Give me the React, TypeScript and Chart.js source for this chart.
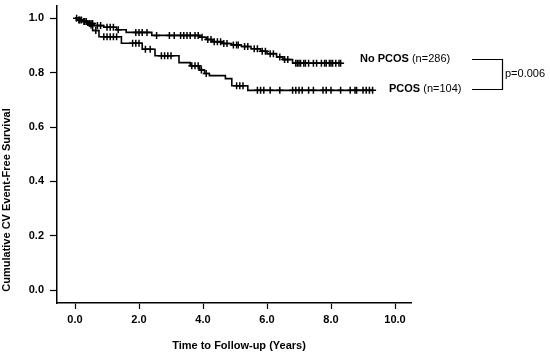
import React, { useEffect, useRef } from "react";
import { Chart, registerables } from "chart.js";
Chart.register(...registerables);

const FONT = "'Liberation Sans', Arial, Helvetica, sans-serif";

const xTicks = [0, 2, 4, 6, 8, 10];
const yTicks = [0, 0.2, 0.4, 0.6, 0.8, 1.0];

// Kaplan-Meier step points (time in years, survival)
const noPcosTimes = [0, 0.1, 0.25, 0.4, 0.6, 0.9, 1.3, 1.6, 2.4, 3.9, 4.1, 4.3, 4.6, 4.9, 5.2, 5.5, 5.8, 6.0, 6.3, 6.5, 6.8];
const noPcosSurv = [1, 0.994, 0.988, 0.981, 0.973, 0.967, 0.958, 0.948, 0.937, 0.93, 0.922, 0.914, 0.907, 0.902, 0.896, 0.888, 0.879, 0.87, 0.858, 0.848, 0.835];
const noPcosEnd = 8.3;
const noPcosCensor = [0.05, 0.12, 0.15, 0.2, 0.28, 0.3, 0.35, 0.45, 0.5, 0.55, 0.7, 0.8, 1.0, 1.1, 1.2, 1.35, 1.9, 2.0, 2.1, 2.25, 2.55, 2.95, 3.1, 3.3, 3.4, 3.5, 3.6, 3.75, 3.85, 3.97, 4.15, 4.25, 4.35, 4.45, 4.55, 4.65, 4.75, 4.95, 5.05, 5.1, 5.3, 5.4, 5.6, 5.7, 5.85, 5.95, 6.1, 6.2, 6.4, 6.55, 6.65, 6.9, 6.95, 7.0, 7.05, 7.15, 7.2, 7.3, 7.45, 7.55, 7.7, 7.8, 7.85, 7.95, 8.0, 8.05, 8.15, 8.25, 8.3];

const pcosTimes = [0, 0.2, 0.4, 0.55, 0.75, 1.45, 2.1, 2.5, 3.25, 3.6, 3.9, 4.05, 4.2, 4.7, 4.9, 5.4];
const pcosSurv = [1, 0.99, 0.975, 0.955, 0.932, 0.908, 0.886, 0.862, 0.837, 0.825, 0.81, 0.797, 0.789, 0.778, 0.752, 0.735];
const pcosEnd = 9.3;
const pcosCensor = [0.5, 0.65, 0.9, 1.0, 1.1, 1.2, 1.3, 1.8, 1.9, 2.0, 2.2, 2.35, 2.7, 2.8, 2.9, 3.0, 3.65, 3.75, 3.85, 3.95, 4.1, 5.05, 5.15, 5.25, 5.7, 5.8, 5.9, 6.1, 6.4, 6.8, 6.9, 7.0, 7.1, 7.3, 7.45, 7.75, 7.85, 8.0, 8.3, 8.6, 8.75, 8.8, 9.0, 9.1, 9.2, 9.3];

const survAt = (times: number[], surv: number[], t: number) => {
  let s = surv[0];
  for (let i = 0; i < times.length; i++) if (times[i] <= t) s = surv[i];
  return s;
};

const stepData = (times: number[], surv: number[], end: number) => [
  ...times.map((t, i) => ({ x: t, y: surv[i] })),
  { x: end, y: surv[surv.length - 1] },
];

const censorData = (times: number[], surv: number[], censor: number[]) =>
  censor.map((t) => ({ x: t, y: survAt(times, surv, t) }));

const annotations = {
  id: "annotations",
  afterDraw(chart: any) {
    const ctx = chart.ctx;
    ctx.save();
    ctx.fillStyle = "#000";
    ctx.strokeStyle = "#000";
    ctx.textBaseline = "middle";
    // y title
    ctx.save();
    ctx.translate(7, 200);
    ctx.rotate(-Math.PI / 2);
    ctx.textAlign = "center";
    ctx.font = `bold 11px ${FONT}`;
    ctx.fillText("Cumulative CV Event-Free Survival", 0, 0);
    ctx.restore();
    // x title
    ctx.textAlign = "center";
    ctx.font = `bold 11px ${FONT}`;
    ctx.fillText("Time to Follow-up (Years)", 239, 346);
    // legend labels
    ctx.textAlign = "left";
    const drawLabel = (bold: string, rest: string, x: number, y: number) => {
      ctx.font = `bold 11px ${FONT}`;
      ctx.fillText(bold, x, y);
      const w = ctx.measureText(bold).width;
      ctx.font = `11px ${FONT}`;
      ctx.fillText(rest, x + w, y);
    };
    drawLabel("No PCOS", " (n=286)", 360, 59);
    drawLabel("PCOS", " (n=104)", 389, 89);
    // bracket
    ctx.lineWidth = 1.2;
    ctx.beginPath();
    ctx.moveTo(472, 59.5);
    ctx.lineTo(502.5, 59.5);
    ctx.lineTo(502.5, 89.5);
    ctx.lineTo(472, 89.5);
    ctx.stroke();
    ctx.font = `11px ${FONT}`;
    ctx.fillText("p=0.006", 505, 74);
    ctx.restore();
  },
};

export default function App() {
  const ref = useRef<HTMLCanvasElement>(null);
  useEffect(() => {
    if (!ref.current) return;
    const tickFont = { family: FONT, size: 11, weight: "bold" as const };
    const chart = new Chart(ref.current, {
      type: "line",
      data: {
        datasets: [
          {
            label: "No PCOS",
            data: stepData(noPcosTimes, noPcosSurv, noPcosEnd),
            borderColor: "#000",
            borderWidth: 1.6,
            pointRadius: 0,
            stepped: "before",
            fill: false,
          },
          {
            label: "No PCOS censored",
            data: censorData(noPcosTimes, noPcosSurv, noPcosCensor),
            showLine: false,
            pointStyle: "cross",
            pointRadius: 3.5,
            pointBorderWidth: 1.5,
            borderColor: "#000",
            backgroundColor: "#000",
          },
          {
            label: "PCOS",
            data: stepData(pcosTimes, pcosSurv, pcosEnd),
            borderColor: "#000",
            borderWidth: 1.6,
            pointRadius: 0,
            stepped: "before",
            fill: false,
          },
          {
            label: "PCOS censored",
            data: censorData(pcosTimes, pcosSurv, pcosCensor),
            showLine: false,
            pointStyle: "cross",
            pointRadius: 3.5,
            pointBorderWidth: 1.5,
            borderColor: "#000",
            backgroundColor: "#000",
          },
        ],
      },
      options: {
        animation: false,
        responsive: false,
        layout: { padding: { top: 2, right: 139, left: 0, bottom: 0 } },
        plugins: { legend: { display: false }, tooltip: { enabled: false } },
        scales: {
          x: {
            type: "linear",
            min: -0.5625,
            max: 10.5,
            afterBuildTicks: (s: any) => {
              s.ticks = xTicks.map((v) => ({ value: v }));
            },
            afterFit: (s: any) => {
              s.height = 50;
              s.paddingLeft = 0;
              s.paddingRight = 0;
            },
            ticks: {
              callback: (v: any) => Number(v).toFixed(1),
              font: tickFont,
              color: "#000",
              padding: 4,
              maxRotation: 0,
              autoSkip: false,
            },
            grid: { display: true, drawOnChartArea: false, drawTicks: true, tickLength: 6, tickColor: "#000", tickWidth: 1.2 },
            border: { display: true, color: "#000", width: 1.5 },
          },
          y: {
            type: "linear",
            min: -0.047,
            max: 1.047,
            afterBuildTicks: (s: any) => {
              s.ticks = yTicks.map((v) => ({ value: v }));
            },
            afterFit: (s: any) => {
              s.width = 57;
              s.paddingTop = 0;
              s.paddingBottom = 0;
            },
            ticks: {
              callback: (v: any) => Number(v).toFixed(1),
              font: tickFont,
              color: "#000",
              padding: 6,
              autoSkip: false,
            },
            grid: { display: true, drawOnChartArea: false, drawTicks: true, tickLength: 7, tickColor: "#000", tickWidth: 1.2 },
            border: { display: true, color: "#000", width: 1.5 },
          },
        },
      },
      plugins: [annotations],
    });
    return () => chart.destroy();
  }, []);
  return (
    <div style={{ position: "absolute", left: 0, top: 0, width: 550, height: 353, background: "#fff" }}>
      <canvas ref={ref} width={550} height={353} />
    </div>
  );
}
